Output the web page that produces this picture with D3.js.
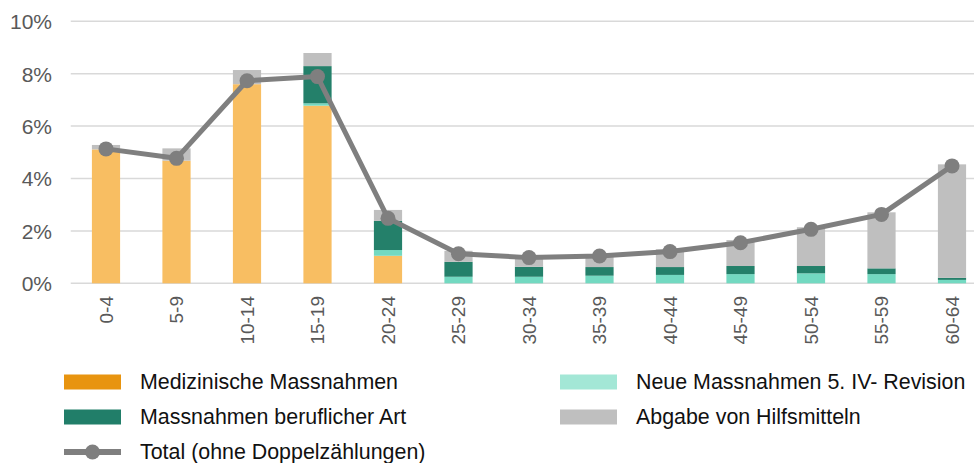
<!DOCTYPE html>
<html>
<head>
<meta charset="utf-8">
<script src="https://cdn.jsdelivr.net/npm/d3@7"></script>
<style>
  body { margin: 0; background: #fff; }
  svg { display: block; font-family: "Liberation Sans", Arial, sans-serif; }
</style>
</head>
<body>
<div id="chart"></div>
<script>
// Daten (in %)
var categories = ["0-4","5-9","10-14","15-19","20-24","25-29","30-34","35-39","40-44","45-49","50-54","55-59","60-64"];
var medizinisch = [5.11, 4.68, 7.60, 6.78, 1.05, 0, 0, 0, 0, 0, 0, 0, 0];
var neue        = [0, 0, 0, 0.09, 0.22, 0.25, 0.25, 0.29, 0.32, 0.35, 0.38, 0.35, 0.13];
var beruflich   = [0, 0, 0, 1.42, 1.11, 0.57, 0.38, 0.33, 0.30, 0.31, 0.28, 0.22, 0.08];
var hilfsmittel = [0.17, 0.47, 0.54, 0.50, 0.42, 0.42, 0.37, 0.45, 0.68, 0.99, 1.48, 2.14, 4.33];
var total       = [5.13, 4.77, 7.73, 7.89, 2.48, 1.13, 0.98, 1.04, 1.21, 1.55, 2.06, 2.63, 4.48];
var yTicks = [0, 2, 4, 6, 8, 10];

var series = [
  {key: "med",  name: "Medizinische Massnahmen",          values: medizinisch, bar: "#F8BE62", legend: "#E8940F"},
  {key: "neue", name: "Neue Massnahmen 5. IV- Revision",  values: neue,        bar: "#73D9C1", legend: "#A3E7D6"},
  {key: "ber",  name: "Massnahmen beruflicher Art",       values: beruflich,   bar: "#24806A", legend: "#217E69"},
  {key: "hilf", name: "Abgabe von Hilfsmitteln",          values: hilfsmittel, bar: "#BFBFBF", legend: "#BFBFBF"}
];

var width = 974, height = 463;
var svg = d3.select("#chart").append("svg").attr("width", width).attr("height", height);

var x = d3.scaleBand().domain(categories).range([70.75, 987.25]).paddingInner(0.6).paddingOuter(0.3);
var y = d3.scaleLinear().domain([0, 10]).range([283.3, 21.3]);

// Gitter
svg.append("g").selectAll("line").data(yTicks).enter().append("line")
  .attr("x1", 70.75).attr("x2", 987.25)
  .attr("y1", function(d){ return y(d); }).attr("y2", function(d){ return y(d); })
  .attr("stroke", "#D9D9D9").attr("stroke-width", 1.5);

// y Achse
var yAxis = svg.append("g").attr("transform", "translate(52,0)")
  .call(d3.axisLeft(y).tickValues(yTicks).tickSize(0).tickPadding(0).tickFormat(function(d){ return d + "%"; }));
yAxis.select(".domain").remove();
yAxis.selectAll("text").attr("fill", "#595959").style("font-size", "21px").attr("dy", "0.35em");

// x Achse
var xAxis = svg.append("g").attr("transform", "translate(0,296)")
  .call(d3.axisBottom(x).tickSize(0).tickPadding(0));
xAxis.select(".domain").remove();
xAxis.selectAll("text")
  .attr("fill", "#595959").style("font-size", "19px")
  .attr("text-anchor", "end").attr("y", 0).attr("x", 0).attr("dy", "0.35em")
  .attr("transform", "rotate(-90)");

// gestapelte Balken
var rows = categories.map(function(c, i){
  var r = {cat: c};
  series.forEach(function(s){ r[s.key] = s.values[i]; });
  return r;
});
var stack = d3.stack().keys(series.map(function(s){ return s.key; }))(rows);

svg.append("g").selectAll("g").data(stack).enter().append("g")
  .attr("fill", function(d, i){ return series[i].bar; })
  .selectAll("rect").data(function(d){ return d; }).enter().append("rect")
  .attr("x", function(d){ return x(d.data.cat); })
  .attr("width", x.bandwidth())
  .attr("y", function(d){ return y(d[1]); })
  .attr("height", function(d){ return Math.max(0, y(d[0]) - y(d[1])); });

// Total Linie
var line = d3.line()
  .x(function(d, i){ return x(categories[i]) + x.bandwidth() / 2; })
  .y(function(d){ return y(d); });

svg.append("path").datum(total)
  .attr("d", line).attr("fill", "none")
  .attr("stroke", "#7F7F7F").attr("stroke-width", 5).attr("stroke-linejoin", "round");

svg.append("g").selectAll("circle").data(total).enter().append("circle")
  .attr("cx", function(d, i){ return x(categories[i]) + x.bandwidth() / 2; })
  .attr("cy", function(d){ return y(d); })
  .attr("r", 7.5).attr("fill", "#7F7F7F");

// Legende
var legendItems = [
  {s: series[0], lx: 64,  ly: 382},
  {s: series[2], lx: 64,  ly: 417},
  {s: series[1], lx: 560, ly: 382},
  {s: series[3], lx: 560, ly: 417}
];
var lg = svg.append("g");
legendItems.forEach(function(it){
  lg.append("rect").attr("x", it.lx).attr("y", it.ly - 7.5).attr("width", 57).attr("height", 15).attr("fill", it.s.legend);
  lg.append("text").attr("x", it.lx + 76).attr("y", it.ly).attr("dy", "0.35em")
    .style("font-size", "21.4px").attr("fill", "#111").text(it.s.name);
});
lg.append("line").attr("x1", 64).attr("x2", 121).attr("y1", 452).attr("y2", 452)
  .attr("stroke", "#7F7F7F").attr("stroke-width", 6);
lg.append("circle").attr("cx", 92.5).attr("cy", 452).attr("r", 7.5).attr("fill", "#7F7F7F");
lg.append("text").attr("x", 140).attr("y", 452).attr("dy", "0.35em")
  .style("font-size", "21.4px").attr("fill", "#111").text("Total (ohne Doppelzählungen)");
</script>
</body>
</html>
